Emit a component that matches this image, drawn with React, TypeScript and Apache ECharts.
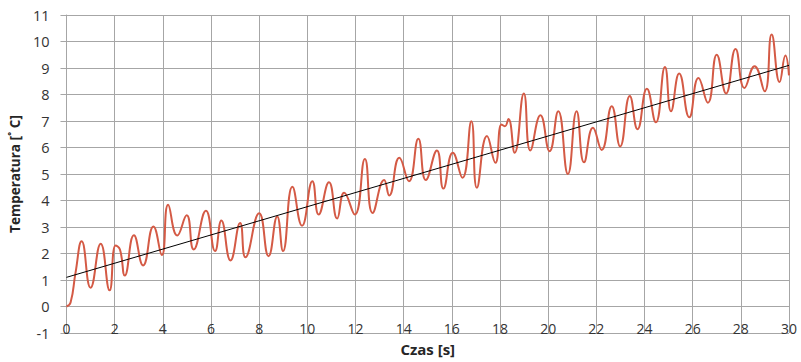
import React, { useEffect, useRef } from "react";
import * as echarts from "echarts";

const timeValues = [0, 0.17, 0.375, 0.63, 1.0, 1.42, 1.79, 2.04, 2.22, 2.42, 2.8, 3.18, 3.61, 3.96, 4.22, 4.6, 4.99, 5.28, 5.79, 6.17, 6.43, 6.81, 7.21, 7.43, 8.0, 8.39, 8.75, 8.99, 9.38, 9.78, 10.21, 10.47, 10.9, 11.24, 11.53, 11.97, 12.39, 12.71, 13.19, 13.4, 13.82, 14.22, 14.61, 14.92, 15.38, 15.65, 16.04, 16.44, 16.81, 17.04, 17.46, 17.81, 18.06, 18.2, 18.35, 18.61, 18.99, 19.26, 19.68, 20.06, 20.42, 20.82, 21.18, 21.49, 21.86, 22.22, 22.64, 22.99, 23.39, 23.71, 24.1, 24.47, 24.85, 25.1, 25.44, 25.86, 26.24, 26.63, 27.0, 27.39, 27.78, 28.15, 28.57, 28.99, 29.28, 29.61, 29.85, 30.0];

const temperatureValues = [0, 0.15, 1.27, 2.46, 0.71, 2.37, 0.61, 2.3, 2.15, 1.17, 2.69, 1.55, 3.02, 1.94, 3.84, 2.68, 3.44, 2.15, 3.61, 2.09, 3.25, 1.74, 3.15, 1.86, 3.52, 1.9, 3.4, 2.09, 4.52, 3.05, 4.73, 3.47, 4.69, 3.32, 4.29, 3.47, 5.57, 3.53, 4.77, 4.19, 5.61, 4.73, 6.33, 4.77, 5.89, 4.45, 5.8, 4.86, 6.99, 4.48, 6.43, 5.42, 6.87, 6.8, 7.08, 5.8, 8.04, 5.89, 7.22, 5.86, 7.37, 5.0, 7.37, 5.44, 6.75, 5.91, 7.56, 6.04, 7.94, 6.69, 8.22, 6.95, 9.04, 7.37, 8.79, 7.14, 8.62, 7.69, 9.5, 8.04, 9.72, 8.25, 9.07, 8.12, 10.26, 8.47, 9.47, 8.72];

const trendTime = [0, 30];
const trendValues = [1.1, 9.1];

const xTitle = "Czas [s]";
const yTitle = "Temperatura [˚ C]";

export default function App() {
  const ref = useRef<HTMLDivElement>(null);
  useEffect(() => {
    if (!ref.current) return;
    const chart = echarts.init(ref.current, null, { renderer: "svg" });
    const font = "'Open Sans', 'Noto Sans', sans-serif";
    chart.setOption({
      animation: false,
      backgroundColor: "#ffffff",
      grid: { left: 66, right: 12, top: 15, bottom: 29, containLabel: false },
      xAxis: {
        type: "value",
        min: 0,
        max: 30,
        interval: 2,
        name: xTitle,
        nameLocation: "middle",
        nameGap: 8,
        nameTextStyle: { fontFamily: font, fontWeight: "bold", fontSize: 15, color: "#262626", verticalAlign: "top" },
        axisLine: { show: true, lineStyle: { color: "#a6a6a6", width: 1 } },
        axisTick: { show: false },
        axisLabel: { inside: true, margin: -2, fontFamily: font, fontSize: 14, color: "#333333" },
        splitLine: { show: true, lineStyle: { color: "#a6a6a6", width: 1 } },
      },
      yAxis: {
        type: "value",
        min: -1,
        max: 11,
        interval: 1,
        name: yTitle,
        nameLocation: "middle",
        nameRotate: 90,
        nameGap: 43,
        nameTextStyle: { fontFamily: font, fontWeight: "bold", fontSize: 13.5, color: "#262626" },
        axisLine: { show: true, lineStyle: { color: "#a6a6a6", width: 1 } },
        axisTick: { show: true, length: 6, lineStyle: { color: "#a6a6a6" } },
        axisLabel: { margin: 17, fontFamily: font, fontSize: 14.5, color: "#333333" },
        splitLine: { show: true, lineStyle: { color: "#a6a6a6", width: 1 } },
      },
      series: [
        {
          type: "line",
          data: timeValues.map((t, i) => [t, temperatureValues[i]]),
          smooth: 0.5,
          showSymbol: false,
          lineStyle: { color: "#d45a45", width: 2 },
          z: 2,
        },
        {
          type: "line",
          data: trendTime.map((t, i) => [t, trendValues[i]]),
          showSymbol: false,
          lineStyle: { color: "#000000", width: 1 },
          z: 3,
        },
      ],
    });
    return () => chart.dispose();
  }, []);
  return (
    <div
      ref={ref}
      style={{ position: "fixed", left: 0, top: 0, width: 801, height: 362, background: "#fff" }}
    />
  );
}
